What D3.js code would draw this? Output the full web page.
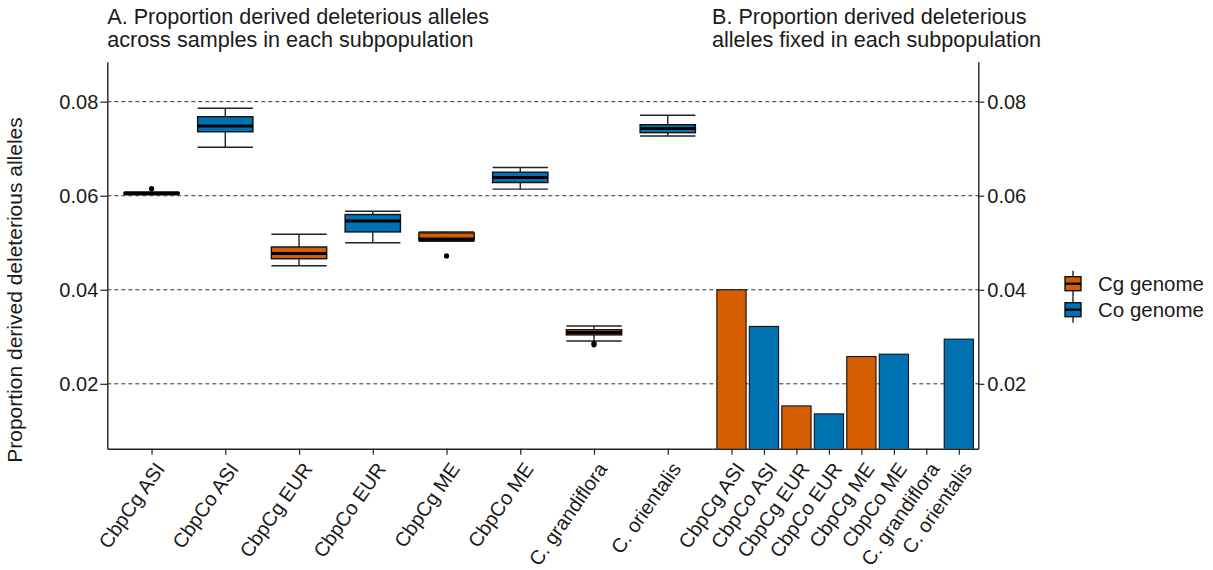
<!DOCTYPE html>
<html>
<head>
<meta charset="utf-8">
<script src="https://cdn.jsdelivr.net/npm/d3@7"></script>
<style>
  html, body { margin: 0; padding: 0; background: #fff; }
  svg text { font-family: "Liberation Sans", Arial, Helvetica, sans-serif; fill: #1a1a1a; }
</style>
</head>
<body>
<svg id="chart" width="1213" height="570"></svg>
<script>
// Subpopulations (shared by both panels)
const categories = ["CbpCg ASI", "CbpCo ASI", "CbpCg EUR", "CbpCo EUR",
                    "CbpCg ME", "CbpCo ME", "C. grandiflora", "C. orientalis"];
const genome = ["Cg", "Co", "Cg", "Co", "Cg", "Co", "Cg", "Co"];

// Panel A: boxplot summaries per subpopulation
const whiskerLow  = [0.0602, 0.0703, 0.0451, 0.0500, 0.0503, 0.0614, 0.0291, 0.0727];
const quartile1   = [0.0604, 0.0736, 0.0466, 0.0523, 0.0505, 0.0628, 0.0304, 0.0734];
const medians     = [0.0605, 0.0748, 0.0477, 0.0546, 0.0508, 0.0639, 0.0309, 0.0743];
const quartile3   = [0.0606, 0.0768, 0.0491, 0.0560, 0.0521, 0.0650, 0.0315, 0.0751];
const whiskerHigh = [0.0608, 0.0786, 0.0518, 0.0567, 0.0523, 0.0660, 0.0323, 0.0771];
const outliers    = [[0.0615], [], [], [], [0.0472], [], [0.0286, 0.0283], []];

// Panel B: proportion fixed per subpopulation (no value for C. grandiflora)
const fixedValues = [0.0400, 0.0322, 0.0153, 0.0136, 0.0258, 0.0263, null, 0.0295];

// Axis ticks and legend
const yTicks = [0.02, 0.04, 0.06, 0.08];
const legendLabels = ["Cg genome", "Co genome"];
const genomeKeys = ["Cg", "Co"];

const colour = d3.scaleOrdinal().domain(genomeKeys).range(["#D55E00", "#0072B2"]);

const svg = d3.select("#chart");

const plotLeft = 107.3, plotMid = 712, plotRight = 978.3, plotTop = 61.7, plotBottom = 448.7;

const y = d3.scaleLinear().domain([0.0062, 0.0885]).range([plotBottom, plotTop]);
const xBox = d3.scalePoint().domain(categories).range([plotLeft, plotMid]).padding(0.6);
const xBar = d3.scalePoint().domain(categories).range([plotMid, plotRight]).padding(0.6);

const boxW = xBox.step() * 0.75;
const barW = xBar.step() * 0.9;

// Dashed reference lines across both panels
svg.append("g").selectAll("line")
  .data(yTicks).join("line")
  .attr("x1", plotLeft).attr("x2", plotRight)
  .attr("y1", d => y(d)).attr("y2", d => y(d))
  .attr("stroke", "#333").attr("stroke-width", 1)
  .attr("stroke-dasharray", "4,3");

// Clip so bars stop at the panel floor
svg.append("defs").append("clipPath").attr("id", "panel")
  .append("rect").attr("x", plotLeft).attr("y", plotTop)
  .attr("width", plotRight - plotLeft).attr("height", plotBottom - plotTop);

// Panel B bars
const barData = categories.map((c, i) => ({ c, g: genome[i], v: fixedValues[i] }))
  .filter(d => d.v !== null);
svg.append("g").attr("clip-path", "url(#panel)")
  .selectAll("rect").data(barData).join("rect")
  .attr("x", d => xBar(d.c) - barW / 2)
  .attr("width", barW)
  .attr("y", d => y(d.v))
  .attr("height", d => y(0) - y(d.v))
  .attr("fill", d => colour(d.g))
  .attr("stroke", "#111").attr("stroke-width", 1.1);

// Panel A boxplots
const boxData = categories.map((c, i) => ({
  c, g: genome[i], lo: whiskerLow[i], q1: quartile1[i], med: medians[i],
  q3: quartile3[i], hi: whiskerHigh[i], out: outliers[i]
}));
const boxes = svg.append("g").selectAll("g").data(boxData).join("g")
  .attr("transform", d => `translate(${xBox(d.c)},0)`);

const lineCol = "#222";
// whisker stems
boxes.append("line").attr("x1", 0).attr("x2", 0)
  .attr("y1", d => y(d.hi)).attr("y2", d => y(d.q3))
  .attr("stroke", lineCol).attr("stroke-width", 1.4);
boxes.append("line").attr("x1", 0).attr("x2", 0)
  .attr("y1", d => y(d.q1)).attr("y2", d => y(d.lo))
  .attr("stroke", lineCol).attr("stroke-width", 1.4);
// whisker caps
boxes.selectAll("line.cap").data(d => [d.lo, d.hi]).join("line").attr("class", "cap")
  .attr("x1", -boxW / 2).attr("x2", boxW / 2)
  .attr("y1", v => y(v)).attr("y2", v => y(v))
  .attr("stroke", lineCol).attr("stroke-width", 1.4);
// box
boxes.append("rect")
  .attr("x", -boxW / 2).attr("width", boxW)
  .attr("y", d => y(d.q3)).attr("height", d => y(d.q1) - y(d.q3))
  .attr("fill", d => colour(d.g))
  .attr("stroke", "#111").attr("stroke-width", 1.4);
// median
boxes.append("line")
  .attr("x1", -boxW / 2).attr("x2", boxW / 2)
  .attr("y1", d => y(d.med)).attr("y2", d => y(d.med))
  .attr("stroke", "#000").attr("stroke-width", 3);
// outliers
boxes.selectAll("circle").data(d => d.out).join("circle")
  .attr("cx", 0).attr("cy", v => y(v)).attr("r", 2.6).attr("fill", "#000");

// Axes
const tickFmt = d3.format(".2f");
const styleAxis = g => {
  g.selectAll("path.domain").attr("stroke", "#222").attr("stroke-width", 1.4);
  g.selectAll(".tick line").attr("stroke", "#222").attr("stroke-width", 1.2);
  g.selectAll(".tick text").attr("font-size", 20).attr("fill", "#1a1a1a")
    .attr("font-family", '"Liberation Sans", Arial, Helvetica, sans-serif');
};

svg.append("g").attr("transform", `translate(${plotLeft},0)`)
  .call(d3.axisLeft(y).tickValues(yTicks).tickFormat(tickFmt).tickSize(7).tickSizeOuter(0).tickPadding(2))
  .call(styleAxis);
svg.append("g").attr("transform", `translate(${plotRight},0)`)
  .call(d3.axisRight(y).tickValues(yTicks).tickFormat(tickFmt).tickSize(6).tickSizeOuter(0).tickPadding(3))
  .call(styleAxis);

const angle = -55;
const addBottom = scale => {
  const g = svg.append("g").attr("transform", `translate(0,${plotBottom})`)
    .call(d3.axisBottom(scale).tickSize(6).tickSizeOuter(0))
    .call(styleAxis);
  // labels hang from their top-right corner just below each tick
  g.selectAll(".tick text")
    .attr("text-anchor", "end")
    .attr("x", 0).attr("y", 0)
    .attr("dy", "0.71em")
    .attr("transform", `translate(2,12) rotate(${angle})`);
};
addBottom(xBox);
addBottom(xBar);

// Y axis title
svg.append("text")
  .attr("transform", "translate(22,290) rotate(-90)")
  .attr("text-anchor", "middle")
  .attr("font-size", 21)
  .text("Proportion derived deleterious alleles");

// Panel titles
const titles = [
  { x: plotLeft, lines: ["A. Proportion derived deleterious alleles", "across samples in each subpopulation"] },
  { x: plotMid, lines: ["B. Proportion derived deleterious", "alleles fixed in each subpopulation"] }
];
titles.forEach(t => {
  svg.append("text").attr("x", t.x).attr("font-size", 21.6)
    .selectAll("tspan").data(t.lines).join("tspan")
    .attr("x", t.x).attr("y", (d, i) => 24 + i * 22.7).text(d => d);
});

// Legend
const legend = svg.append("g").attr("transform", "translate(1065,276.7)");
const keyH = 14, keyGap = 26;
const items = legend.selectAll("g").data(genomeKeys).join("g")
  .attr("transform", (d, i) => `translate(0,${i * keyGap})`);
items.append("line").attr("x1", 8).attr("x2", 8).attr("y1", -6).attr("y2", keyH + 6)
  .attr("stroke", lineCol).attr("stroke-width", 1.4);
items.append("rect").attr("width", 16).attr("height", keyH)
  .attr("fill", d => colour(d)).attr("stroke", "#111").attr("stroke-width", 1.4);
items.append("line").attr("x1", 0).attr("x2", 16).attr("y1", keyH / 2).attr("y2", keyH / 2)
  .attr("stroke", "#000").attr("stroke-width", 2.4);
items.append("text").attr("x", 33).attr("y", keyH / 2).attr("dy", "0.36em")
  .attr("font-size", 20.5).text((d, i) => legendLabels[i]);
</script>
</body>
</html>
